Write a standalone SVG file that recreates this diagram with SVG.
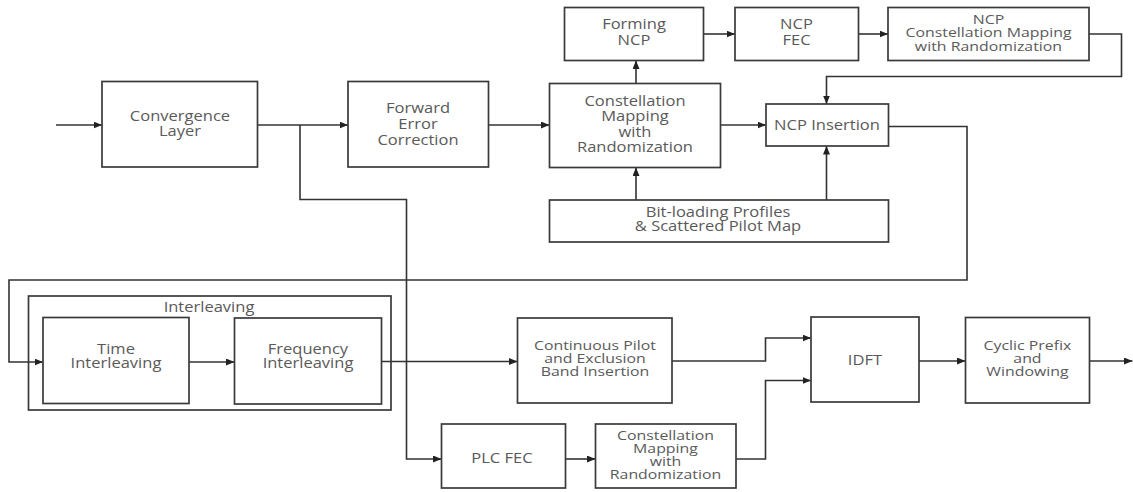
<svg xmlns="http://www.w3.org/2000/svg" width="1133" height="492" viewBox="0 0 1133 492">
<style>
.box{fill:#fff;stroke:#3a3a3a;stroke-width:1.7}
.grp{fill:none;stroke:#3a3a3a;stroke-width:1.7}
.ln{fill:none;stroke:#333;stroke-width:1.6}
text{font-family:"Open Sans","Noto Sans","Liberation Sans",sans-serif;font-size:14px;fill:#5a5a5a;text-anchor:middle;transform-box:fill-box;transform-origin:center;transform:scaleX(1.18)}
text.s{font-size:13px;transform:scaleX(1.22)}
text.t{font-size:12.5px;transform:scaleX(1.27)}
</style>
<defs>
<marker id="ah" markerUnits="userSpaceOnUse" markerWidth="9" markerHeight="8" refX="8.5" refY="3.5" orient="auto">
<path d="M0,0 L8.5,3.5 L0,7 z" fill="#222"/>
</marker>
</defs>
<rect width="1133" height="492" fill="#fff"/>
<g id="connectors">
<path class="ln" d="M56,125 H102" marker-end="url(#ah)"/>
<path class="ln" d="M258,125 H348" marker-end="url(#ah)"/>
<path class="ln" d="M300,125 V199.5 H406.5 V459 H441.5" marker-end="url(#ah)"/>
<path class="ln" d="M489,125 H549.5" marker-end="url(#ah)"/>
<path class="ln" d="M636,83.5 V60.5" marker-end="url(#ah)"/>
<path class="ln" d="M703.5,34 H735" marker-end="url(#ah)"/>
<path class="ln" d="M858.5,34 H888" marker-end="url(#ah)"/>
<path class="ln" d="M1089,34 H1121.5 V76.5 H826.5 V104" marker-end="url(#ah)"/>
<path class="ln" d="M720.5,125 H766" marker-end="url(#ah)"/>
<path class="ln" d="M636,200 V167.5" marker-end="url(#ah)"/>
<path class="ln" d="M826.5,200 V146" marker-end="url(#ah)"/>
<path class="ln" d="M888.5,126.5 H967 V280 H9 V362 H43" marker-end="url(#ah)"/>
<path class="ln" d="M189,362 H234.5" marker-end="url(#ah)"/>
<path class="ln" d="M381.5,361.5 H517.5" marker-end="url(#ah)"/>
<path class="ln" d="M672,361 H765.5 V338 H811" marker-end="url(#ah)"/>
<path class="ln" d="M565.5,459 H595.5" marker-end="url(#ah)"/>
<path class="ln" d="M736,459 H765.5 V380.5 H811" marker-end="url(#ah)"/>
<path class="ln" d="M919,361 H965.5" marker-end="url(#ah)"/>
<path class="ln" d="M1089.5,361 H1132.5" marker-end="url(#ah)"/>
</g>
<g id="interleaving">
<rect class="grp" x="28.5" y="296" width="362.5" height="114"/>
<text x="209" y="312">Interleaving</text>
</g>
<g id="convergence"><rect class="box" x="102" y="81.5" width="155.5" height="85.5"/><text x="180" y="121">Convergence<tspan x="180" dy="15.5">Layer</tspan></text></g>
<g id="fec"><rect class="box" x="348" y="81.5" width="140.5" height="85.5"/><text x="418" y="113">Forward<tspan x="418" dy="16">Error</tspan><tspan x="418" dy="16">Correction</tspan></text></g>
<g id="cm"><rect class="box" x="549.5" y="83.5" width="171" height="84"/><text x="635" y="106">Constellation<tspan x="635" dy="15.5">Mapping</tspan><tspan x="635" dy="15.5">with</tspan><tspan x="635" dy="15.5">Randomization</tspan></text></g>
<g id="forming"><rect class="box" x="564.5" y="7.5" width="139" height="53"/><text x="634" y="29">Forming<tspan x="634" dy="16">NCP</tspan></text></g>
<g id="ncpfec"><rect class="box" x="735" y="7.5" width="123.5" height="53"/><text x="796.5" y="29">NCP<tspan x="796.5" dy="16">FEC</tspan></text></g>
<g id="ncpcm"><rect class="box" x="888" y="7.5" width="201" height="53"/><text class="s" x="988.5" y="24">NCP<tspan x="988.5" dy="13.5">Constellation Mapping</tspan><tspan x="988.5" dy="13.5">with Randomization</tspan></text></g>
<g id="ncpins"><rect class="box" x="766" y="104" width="122.5" height="42"/><text x="827" y="130">NCP Insertion</text></g>
<g id="bitload"><rect class="box" x="549.5" y="200" width="339" height="42"/><text x="718" y="217">Bit-loading Profiles<tspan x="718" dy="14.5">&amp; Scattered Pilot Map</tspan></text></g>
<g id="time"><rect class="box" x="43" y="317.5" width="146" height="86"/><text x="116" y="354">Time<tspan x="116" dy="14">Interleaving</tspan></text></g>
<g id="freq"><rect class="box" x="234.5" y="318" width="147" height="86"/><text x="308" y="354">Frequency<tspan x="308" dy="14">Interleaving</tspan></text></g>
<g id="contpilot"><rect class="box" x="517.5" y="318" width="154.5" height="85"/><text class="s" x="595" y="350">Continuous Pilot<tspan x="595" dy="13">and Exclusion</tspan><tspan x="595" dy="13">Band Insertion</tspan></text></g>
<g id="idft"><rect class="box" x="811" y="317" width="108" height="85"/><text x="865" y="365">IDFT</text></g>
<g id="cyclic"><rect class="box" x="965.5" y="317.5" width="124" height="85.5"/><text class="s" x="1027.5" y="350">Cyclic Prefix<tspan x="1027.5" dy="13">and</tspan><tspan x="1027.5" dy="13">Windowing</tspan></text></g>
<g id="plcfec"><rect class="box" x="441.5" y="424" width="124" height="64"/><text x="502" y="463">PLC FEC</text></g>
<g id="cm2"><rect class="box" x="595.5" y="424" width="140.5" height="64"/><text class="t" x="665.5" y="440.5">Constellation<tspan x="665.5" dy="12.8">Mapping</tspan><tspan x="665.5" dy="12.8">with</tspan><tspan x="665.5" dy="12.8">Randomization</tspan></text></g>
</svg>
